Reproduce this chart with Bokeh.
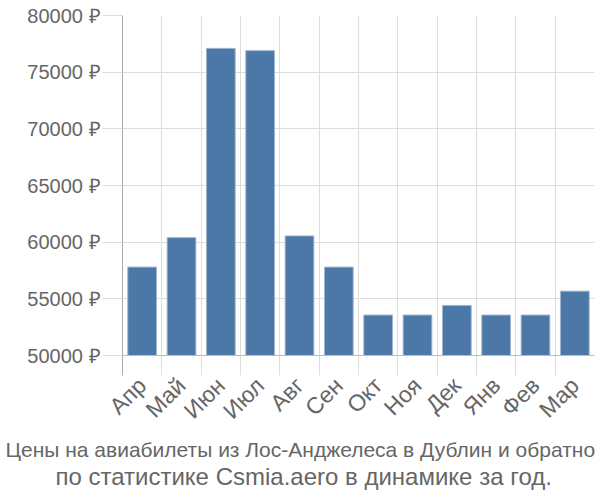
from bokeh.plotting import figure
from bokeh.models import Range1d, FixedTicker, Span, Title
from bokeh.embed import file_html
from bokeh.resources import INLINE
import math

months = ["Апр", "Май", "Июн", "Июл", "Авг", "Сен", "Окт", "Ноя", "Дек", "Янв", "Фев", "Мар"]
prices = [57800, 60400, 77100, 76900, 60550, 57800, 53570, 53570, 54420, 53570, 53570, 55680]
y_ticks = [50000, 55000, 60000, 65000, 70000, 75000, 80000]
y_tick_labels = ["50000 ₽", "55000 ₽", "60000 ₽", "65000 ₽", "70000 ₽", "75000 ₽", "80000 ₽"]
title_lines = ["Цены на авиабилеты из Лос-Анджелеса в Дублин и обратно",
               "по статистике Csmia.aero в динамике за год."]

FONT = "Liberation Sans"
GRAY = "#666666"

n = len(months)
px_per_unit = 340 / 30000.0
y_min = 50000 - 20 / px_per_unit

p = figure(width=600, height=500, output_backend="svg", toolbar_location=None,
           x_range=Range1d(0, n), y_range=Range1d(y_min, 80000),
           min_border_left=122, min_border_right=6, min_border_top=15, min_border_bottom=125)
p.outline_line_color = None

xs = [i + 0.5 for i in range(n)]
p.vbar(x=xs, top=prices, bottom=50000, width=0.73, fill_color="#4c78a8",
       line_color="#9fb6cf", line_width=1)

p.add_layout(Span(location=50000, dimension="width", line_color="#bbbbbb", line_width=1))

# y axis
p.yaxis.ticker = FixedTicker(ticks=y_ticks)
p.yaxis.major_label_overrides = {t: l for t, l in zip(y_ticks, y_tick_labels)}
p.yaxis.major_tick_out = 20
p.yaxis.major_tick_in = 0
p.yaxis.major_tick_line_color = "#dddddd"
p.yaxis.minor_tick_line_color = None
p.yaxis.axis_line_color = "#aaaaaa"
p.yaxis.major_label_standoff = 2
p.yaxis.major_label_text_font = FONT
p.yaxis.major_label_text_font_size = "20px"
p.yaxis.major_label_text_color = GRAY

# x axis
p.xaxis.ticker = FixedTicker(ticks=xs)
p.xaxis.major_label_overrides = {x: m for x, m in zip(xs, months)}
p.xaxis.major_tick_line_color = None
p.xaxis.minor_tick_line_color = None
p.xaxis.axis_line_color = None
p.xaxis.major_label_orientation = math.pi / 4
p.xaxis.major_label_standoff = 0
p.xaxis.major_label_text_font = FONT
p.xaxis.major_label_text_font_size = "23px"
p.xaxis.major_label_text_color = GRAY

# grids
p.xgrid.ticker = FixedTicker(ticks=list(range(n + 1)))
p.xgrid.grid_line_color = "#dddddd"
p.ygrid.ticker = FixedTicker(ticks=y_ticks)
p.ygrid.grid_line_color = "#dddddd"

title_sizes = ["21px", "24px"]
title_offsets = [-117, -67]
for line, size, off in zip(title_lines, title_sizes, title_offsets):
    p.add_layout(Title(text=line, align="left", offset=off, text_font=FONT, text_font_size=size,
                       text_font_style="normal", text_color=GRAY, standoff=0), "below")

open("out.html", "w").write(file_html(p, INLINE))
